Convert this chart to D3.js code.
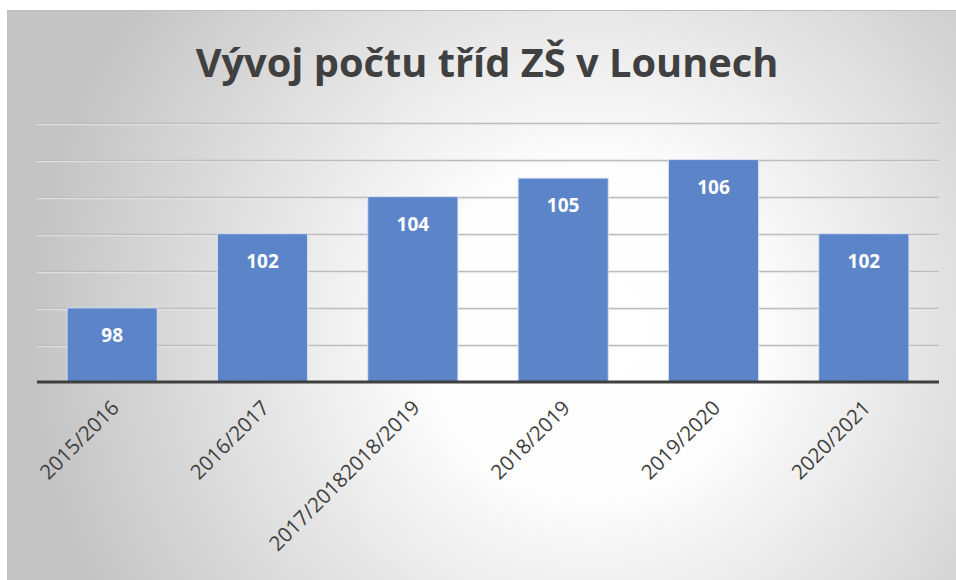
<!DOCTYPE html>
<html><head><meta charset="utf-8">
<script src="https://cdn.jsdelivr.net/npm/d3@7"></script>
<style>html,body{margin:0;padding:0;background:#fff;}svg{display:block;}</style>
</head><body>
<script>
const categories = ["2015/2016","2016/2017","2017/20182018/2019","2018/2019","2019/2020","2020/2021"];
const values = [98,102,104,105,106,102];
const yTicks = [94,96,98,100,102,104,106,108];
const title = "Vývoj počtu tříd ZŠ v Lounech";

const W = 956, H = 580;
const svg = d3.select("body").append("svg").attr("width", W).attr("height", H);
const defs = svg.append("defs");
const rg = defs.append("radialGradient").attr("id","bg")
  .attr("gradientUnits","userSpaceOnUse")
  .attr("cx",590).attr("cy",330).attr("r",560);
rg.append("stop").attr("offset","0").attr("stop-color","#ffffff");
rg.append("stop").attr("offset","0.3").attr("stop-color","#fdfdfd");
rg.append("stop").attr("offset","1").attr("stop-color","#c4c4c4");

svg.append("rect").attr("x",7).attr("y",10).attr("width",W-7).attr("height",H-10).attr("fill","url(#bg)");
svg.append("line").attr("x1",7).attr("x2",W).attr("y1",10.5).attr("y2",10.5).attr("stroke","#bdbdbd").attr("stroke-width",1);

const x = d3.scaleBand().domain(categories).range([37,939]).paddingInner(0.4).paddingOuter(0.2);
const y = d3.scaleLinear().domain([94,108]).range([382,122.5]);

// gridlines
const grid = svg.append("g");
grid.selectAll("line.g").data(yTicks.filter(t=>t>94)).join("line")
  .attr("x1",37).attr("x2",939)
  .attr("y1",d=>Math.round(y(d))+0.5).attr("y2",d=>Math.round(y(d))+0.5)
  .attr("stroke","#bcbcbc").attr("stroke-width",1.3);
grid.selectAll("line.s").data(yTicks.filter(t=>t>94)).join("line")
  .attr("x1",37).attr("x2",939)
  .attr("y1",d=>Math.round(y(d))+1.7).attr("y2",d=>Math.round(y(d))+1.7)
  .attr("stroke","#e6e6e6").attr("stroke-width",1);

// bars
svg.append("g").selectAll("rect").data(values).join("rect")
  .attr("x",(d,i)=>x(categories[i]))
  .attr("y",d=>y(d))
  .attr("width",x.bandwidth())
  .attr("height",d=>y(94)-y(d))
  .attr("fill","#5b84c9")
  .attr("stroke","#d8e2f3").attr("stroke-width",1);

// axis line
svg.append("line").attr("x1",37).attr("x2",939).attr("y1",382).attr("y2",382)
  .attr("stroke","#3f3f3f").attr("stroke-width",3);

// value labels
svg.append("g").selectAll("text").data(values).join("text")
  .attr("x",(d,i)=>x(categories[i])+x.bandwidth()/2)
  .attr("y",d=>y(d)+34)
  .attr("text-anchor","middle")
  .attr("font-family","'Open Sans', sans-serif").attr("font-weight","bold")
  .attr("font-size",19).attr("fill","#ffffff")
  .text(d=>d);

// category labels
svg.append("g").selectAll("text").data(categories).join("text")
  .attr("transform",d=>`translate(${x(d)+x.bandwidth()/2+3},${404}) rotate(-45)`)
  .attr("text-anchor","end")
  .attr("dy","0.35em")
  .attr("font-family","'Open Sans', sans-serif")
  .attr("font-size",20.5).attr("fill","#404040")
  .text(d=>d);

// title
const t = svg.append("text").attr("x",487).attr("y",77).attr("text-anchor","middle")
  .attr("font-family","'Open Sans', sans-serif").attr("font-weight","bold")
  .attr("font-size",40).attr("fill","#404040").text(title);
const tw = t.node().getComputedTextLength();
t.attr("font-size", 40*583/tw);
</script>
</body></html>
